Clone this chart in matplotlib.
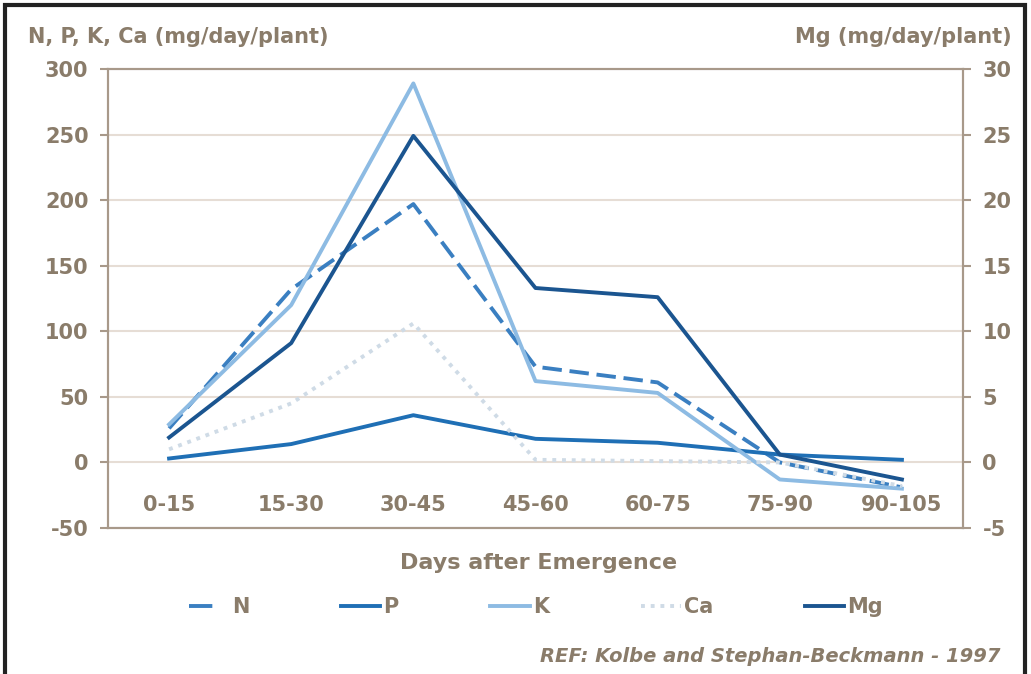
import matplotlib.pyplot as plt

plt.rcParams['font.family'] = ['DejaVu Sans']
plt.rcParams['axes.unicode_minus'] = False

# Data
periods = ["0-15", "15-30", "30-45", "45-60", "60-75", "75-90", "90-105"]
n_vals = [26, 132, 197, 73, 61, 0, -19]
p_vals = [3, 14, 36, 18, 15, 6, 2]
k_vals = [29, 120, 289, 62, 53, -13, -20]
ca_vals = [10, 45, 106, 2, 1, 0, -18]
mg_vals = [1.9, 9.1, 24.9, 13.3, 12.6, 0.6, -1.3]

text_col = "#8a7c6a"
spine_col = "#a8998a"
grid_col = "#e6ddd5"

fig = plt.figure(figsize=(10.31, 6.74), dpi=100)
ax = fig.add_axes([108 / 1031, 1 - 528 / 674, 855 / 1031, 459 / 674])
ax2 = ax.twinx()

x = list(range(len(periods)))

l_n, = ax.plot(x, n_vals, color="#3a7fc1", lw=2.8, linestyle=(0, (5, 2)), label="N")
l_p, = ax.plot(x, p_vals, color="#1f6fb5", lw=2.8, label="P")
l_k, = ax.plot(x, k_vals, color="#8dbbe3", lw=2.8, label="K")
l_ca, = ax.plot(x, ca_vals, color="#cfdbe6", lw=2.8, linestyle=(0, (1, 1.5)), label="Ca")
l_mg, = ax2.plot(x, mg_vals, color="#1b5590", lw=2.8, label="Mg")

ax.set_xlim(-0.5, 6.5)
ax.set_ylim(-50, 300)
ax2.set_ylim(-5, 30)
ax.set_yticks(range(-50, 301, 50))
ax2.set_yticks(range(-5, 31, 5))
ax.set_xticks(x)
ax.set_xticklabels(periods)

ax.grid(axis="y", color=grid_col, lw=1.5)
ax.set_axisbelow(True)

for a in (ax, ax2):
    for s in a.spines.values():
        s.set_color(spine_col)
        s.set_linewidth(1.5)

ax.tick_params(axis="x", length=0, pad=-24, labelsize=15, labelcolor=text_col)
ax.tick_params(axis="y", length=6, width=1.5, color=spine_col, labelsize=15,
               labelcolor=text_col, pad=8)
ax2.tick_params(axis="y", length=6, width=1.5, color=spine_col, labelsize=15,
                labelcolor=text_col, pad=8)
for lbl in ax.get_xticklabels() + ax.get_yticklabels() + ax2.get_yticklabels():
    lbl.set_fontweight("bold")

fig.text(28 / 1031, 1 - 37 / 674, "N, P, K, Ca (mg/day/plant)", fontsize=15,
         fontweight="bold", color=text_col, va="center", ha="left")
fig.text(1012 / 1031, 1 - 37 / 674, "Mg (mg/day/plant)", fontsize=15,
         fontweight="bold", color=text_col, va="center", ha="right")
fig.text(539 / 1031, 1 - 563 / 674, "Days after Emergence", fontsize=16,
         fontweight="bold", color=text_col, va="center", ha="center")

# legend handle for N shows a single short dash, as in the original
n_handle, = ax.plot([], [], color="#3a7fc1", lw=2.8, linestyle=(0, (6, 20)))

leg = fig.legend([n_handle, l_p, l_k, l_ca, l_mg], ["N", "P", "K", "Ca", "Mg"],
                 loc="center", bbox_to_anchor=(536 / 1031, 1 - 607 / 674),
                 ncol=5, frameon=False, fontsize=15, columnspacing=4.4,
                 handlelength=1.9, handletextpad=0.15)
for t in leg.get_texts():
    t.set_color(text_col)
    t.set_fontweight("bold")

fig.text(1000 / 1031, 1 - 657 / 674, "REF: Kolbe and Stephan-Beckmann - 1997",
         fontsize=14, fontweight="bold", style="italic", color=text_col,
         va="center", ha="right")

# outer frame
fig.patches.append(plt.Rectangle((5 / 1031, -0.01), 1020 / 1031, 1 - 5 / 674 + 0.01,
                                 transform=fig.transFigure, fill=False,
                                 edgecolor="#222222", lw=3))

fig.savefig("out.png", dpi=100)
